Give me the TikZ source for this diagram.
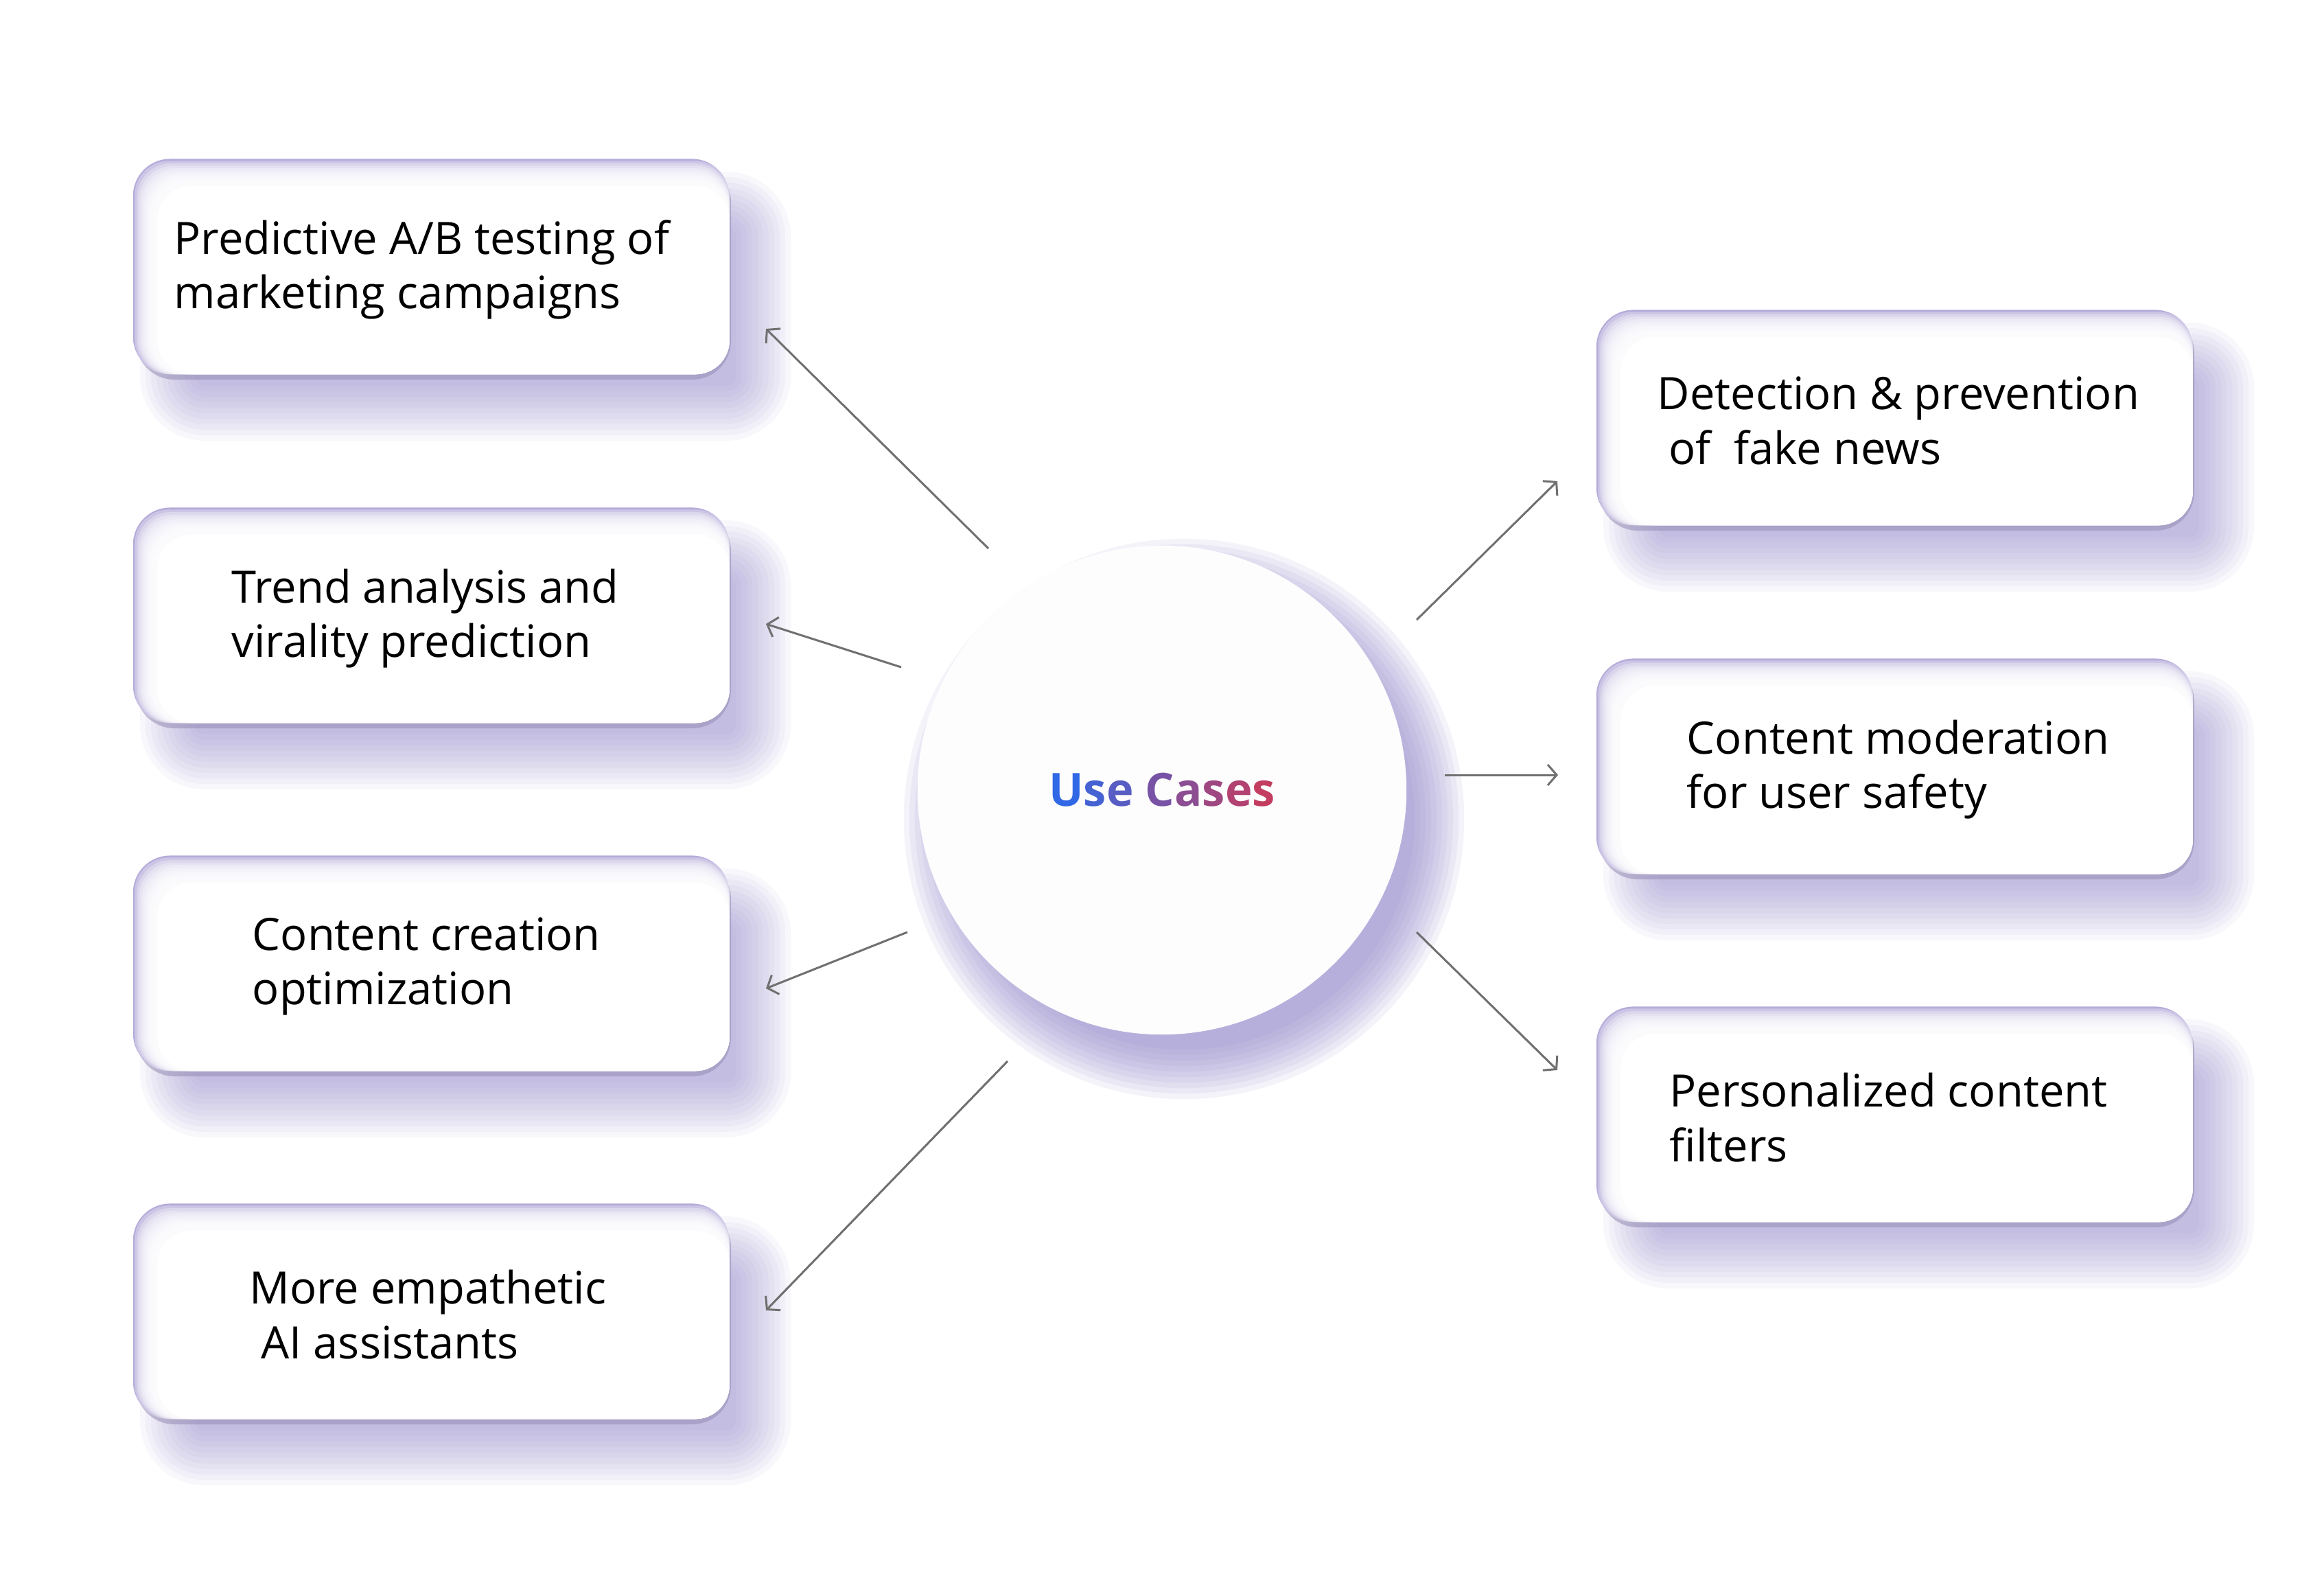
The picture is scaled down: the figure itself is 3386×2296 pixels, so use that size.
\documentclass[tikz,border=0pt]{standalone}
\usepackage{fontspec}
\setmainfont{Open Sans}
\usetikzlibrary{arrows.meta,calc}
\definecolor{shcol}{RGB}{150,138,205}
\definecolor{shdark}{RGB}{150,140,180}
\definecolor{edgecol}{RGB}{182,172,218}
\definecolor{arrcol}{RGB}{112,112,112}
\definecolor{ucA}{RGB}{48,104,230}
\definecolor{ucB}{RGB}{198,60,94}
\definecolor{circfill}{RGB}{253,253,254}
\newcommand{\ucl}[2]{\textcolor{ucB!#1!ucA}{#2}}
\newcommand{\boxshadow}[2]{%
  \foreach \sI in {0,...,10}{%
    \pgfmathsetmacro{\sE}{-40+\sI*8}%
    \pgfmathsetmacro{\sR}{0.54+\sE*0.01}%
    \fill[shcol, fill opacity=0.065, rounded corners=\sR cm]
      (#1-434-\sE+50, #2-156-\sE+58) rectangle (#1+434+\sE+50, #2+156+\sE+58);
  }%
  \fill[shdark, fill opacity=0.55, rounded corners=0.56cm]
      (#1-430, #2-150) rectangle (#1+437, #2+165);
}
\begin{document}
\begin{tikzpicture}[x=0.01cm,y=-0.01cm,
  ubox/.style={rectangle, rounded corners=0.54cm, fill=edgecol,
    minimum width=8.68cm, minimum height=3.13cm, inner sep=0pt},
  lbl/.style={anchor=west, align=left, inner sep=0pt,
    font=\fontsize{18.5}{22.6}\selectfont},
  arr/.style={draw=arrcol, line width=0.03cm,
    -{Straight Barb[length=0.13cm,width=0.3cm,line width=0.03cm]}},
]
\useasboundingbox (0,0) rectangle (3386,2296);
\fill[white] (0,0) rectangle (3386,2296);

% circle shadow
\foreach \cI in {0,...,9}{%
  \pgfmathsetmacro{\cR}{3.36+\cI*0.08}%
  \fill[shcol, fill opacity=0.1] (1693+32,1151+42) circle[radius=\cR cm];
}

% shadows of boxes
\boxshadow{628}{388}
\boxshadow{628}{896}
\boxshadow{628}{1403}
\boxshadow{628}{1910}
\boxshadow{2760}{608}
\boxshadow{2760}{1116}
\boxshadow{2760}{1623}

% boxes with soft inner edge at top and left
\foreach \bn/\bx/\by in {b1/628/388, b2/628/896, b3/628/1403, b4/628/1910,
                          r1/2760/608, r2/2760/1116, r3/2760/1623}{%
  \node[ubox] (\bn) at (\bx,\by) {};
  \foreach \k in {1,...,10}{%
    \fill[white, fill opacity=0.3, rounded corners=0.5cm]
      ($(\bn.north west)+(3.2*\k,3.6*\k)$) rectangle (\bn.south east);
  }
  \fill[white, rounded corners=0.5cm] ($(\bn.north west)+(36,40)$) rectangle (\bn.south east);
}

% labels
\node[lbl] (t1) at (253,393) {Predictive A/B testing of\\marketing campaigns};
\node[lbl] (t2) at (337,901) {Trend analysis and\\virality prediction};
\node[lbl] (t3) at (367,1408) {Content creation\\optimization};
\node[lbl] (t4) at (363,1915) {More empathetic\\\hspace*{0.26em}AI assistants};
\node[lbl] (t5) at (2414,613) {Detection \& prevention\\\hspace*{0.26em}of\ \ fake news};
\node[lbl] (t6) at (2457,1121) {Content moderation\\for user safety};
\node[lbl] (t7) at (2432,1628) {Personalized content\\filters};

% centre
\node[circle, fill=circfill, minimum size=7.12cm, inner sep=0pt,
  font=\fontsize{19}{22}\selectfont\bfseries] (uc) at (1693,1151)
  {\ucl{0}{U}\ucl{14}{s}\ucl{26}{e} \ucl{48}{C}\ucl{62}{a}\ucl{74}{s}\ucl{86}{e}\ucl{98}{s}};

% arrow end points
\coordinate (a1s) at (1440,799);  \coordinate (a1e) at (1116,479);
\coordinate (a2s) at (1313,972);  \coordinate (a2e) at (1116,909);
\coordinate (a3s) at (1322,1358); \coordinate (a3e) at (1116,1440);
\coordinate (a4s) at (1468,1546); \coordinate (a4e) at (1116,1909);
\coordinate (r1s) at (2064,903);  \coordinate (r1e) at (2269,701);
\coordinate (r2s) at (2105,1129); \coordinate (r2e) at (2270,1129);
\coordinate (r3s) at (2064,1358); \coordinate (r3e) at (2269,1559);

\draw[arr] (a1s) -- (a1e);
\draw[arr] (a2s) -- (a2e);
\draw[arr] (a3s) -- (a3e);
\draw[arr] (a4s) -- (a4e);
\draw[arr] (r1s) -- (r1e);
\draw[arr] (r2s) -- (r2e);
\draw[arr] (r3s) -- (r3e);
\end{tikzpicture}
\end{document}
